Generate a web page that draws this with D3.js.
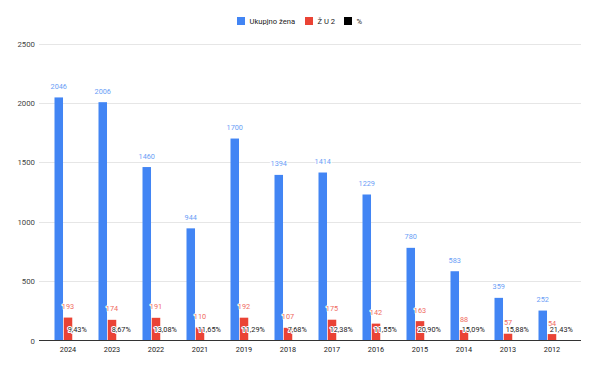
<!DOCTYPE html>
<meta charset="utf-8">
<style>
body { margin: 0; background: #fff; }
text { font-family: Roboto, "Liberation Sans", sans-serif; }
.grid line { stroke: #e6e6e6; }
.halo { paint-order: stroke; stroke: #fff; stroke-width: 2px; stroke-linejoin: round; }
</style>
<script src="https://cdn.jsdelivr.net/npm/d3@7"></script>
<body>
<script>

var years = ["2024", "2023", "2022", "2021", "2019", "2018", "2017", "2016", "2015", "2014", "2013", "2012"];
var ukupno = [2046, 2006, 1460, 944, 1700, 1394, 1414, 1229, 780, 583, 359, 252];
var zu2 = [193, 174, 191, 110, 192, 107, 175, 142, 163, 88, 57, 54];
var postotak = [0.0943, 0.0867, 0.1308, 0.1165, 0.1129, 0.0768, 0.1238, 0.1155, 0.2090, 0.1509, 0.1588, 0.2143];
var seriesNames = ["Ukupjno žena", "Ž U 2", "%"];
var seriesColors = ["#4285f4", "#ea4335", "#000000"];
var labelColors = ["#6a9ef6", "#ef6b60", "#222222"];
var yTicks = [0, 500, 1000, 1500, 2000, 2500];

var width = 600, height = 372;

var svg = d3.select("body").append("svg")
    .attr("width", width)
    .attr("height", height);

var y = d3.scaleLinear()
    .domain([0, 2500])
    .range([340.5, 43.5]);

var x0 = d3.scaleBand()
    .domain(years)
    .range([46, 574]);

var x1 = d3.scaleBand()
    .domain([0, 1, 2])
    .range([0, 27])
    .paddingInner(0.08);

// gridlines
svg.append("g")
    .attr("class", "grid")
  .selectAll("line")
  .data(yTicks.slice(1))
  .enter().append("line")
    .attr("x1", 39).attr("x2", 581)
    .attr("y1", function(d) { return Math.round(y(d)) + 0.5; })
    .attr("y2", function(d) { return Math.round(y(d)) + 0.5; });

// y tick labels
svg.append("g")
  .selectAll("text")
  .data(yTicks)
  .enter().append("text")
    .attr("x", 35)
    .attr("y", function(d) { return y(d) + 3; })
    .attr("text-anchor", "end")
    .attr("font-size", 7.8)
    .attr("fill", "#444")
    .text(function(d) { return d; });

var series = [ukupno, zu2, postotak];

var groups = svg.selectAll("g.year")
  .data(years)
  .enter().append("g")
    .attr("class", "year")
    .attr("transform", function(d) { return "translate(" + (x0(d) + x0.bandwidth() / 2 - 13.5) + ",0)"; });

groups.each(function(yr, i) {
  var g = d3.select(this);
  series.forEach(function(s, k) {
    var v = s[i];
    g.append("rect")
      .attr("x", x1(k))
      .attr("width", x1.bandwidth())
      .attr("y", y(v))
      .attr("height", Math.max(0, y(0) - y(v)))
      .attr("fill", seriesColors[k]);
  });
});

groups.each(function(yr, i) {
  var g = d3.select(this);
  series.forEach(function(s, k) {
    var v = s[i];
    var label = k === 2 ? (v * 100).toFixed(2).replace(".", ",") + "%" : v;
    g.append("text")
      .attr("class", "halo")
      .attr("x", x1(k) + x1.bandwidth() / 2)
      .attr("y", y(v) - 8.5)
      .attr("text-anchor", "middle")
      .attr("font-size", 7.3)
      .attr("fill", labelColors[k])
      .text(label);
  });
});

// baseline
svg.append("line")
    .attr("x1", 39).attr("x2", 581)
    .attr("y1", 340.5).attr("y2", 340.5)
    .attr("stroke", "#333");

// x labels
svg.append("g")
  .selectAll("text")
  .data(years)
  .enter().append("text")
    .attr("x", function(d) { return x0(d) + x0.bandwidth() / 2; })
    .attr("y", 352)
    .attr("text-anchor", "middle")
    .attr("font-size", 7.3)
    .attr("fill", "#222")
    .text(function(d) { return d; });

// legend
var legendX = [237, 305, 344];
var legend = svg.selectAll("g.legend")
  .data(seriesNames)
  .enter().append("g")
    .attr("class", "legend")
    .attr("transform", function(d, i) { return "translate(" + legendX[i] + ",17)"; });

legend.append("rect")
    .attr("width", 8).attr("height", 8)
    .attr("fill", function(d, i) { return seriesColors[i]; });

legend.append("text")
    .attr("x", 12.5)
    .attr("y", 7)
    .attr("font-size", 7.6)
    .attr("fill", "#222")
    .text(function(d) { return d; });

</script>
</body>
